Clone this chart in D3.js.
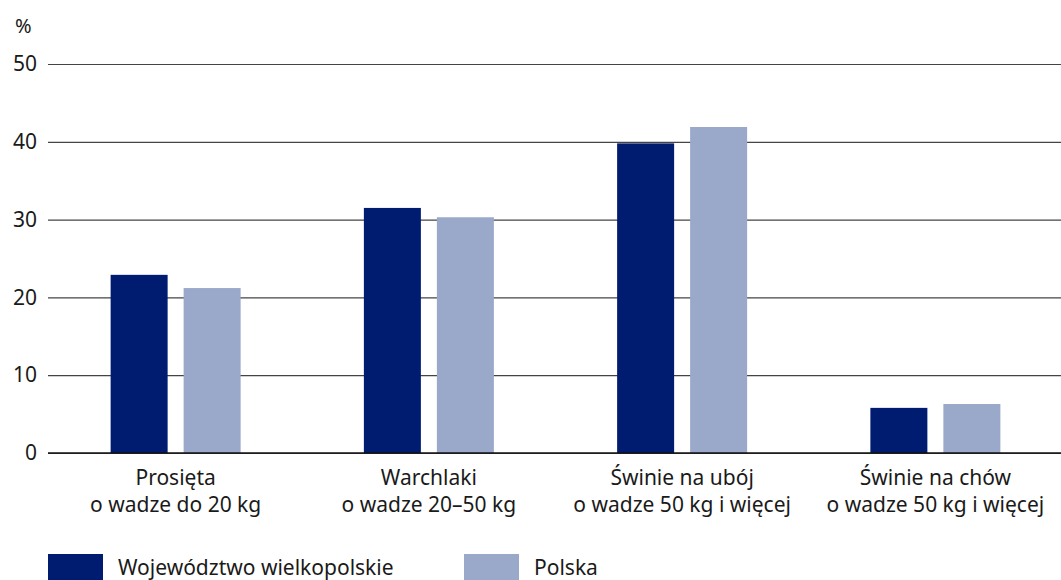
<!DOCTYPE html>
<html>
<head>
<meta charset="utf-8">
<script src="https://cdn.jsdelivr.net/npm/d3@7"></script>
<style>
  body { margin: 0; background: #fff; }
  text { font-family: "Noto Sans", sans-serif; fill: #1a1a1a; }
</style>
</head>
<body>
<div id="chart"></div>
<script>
// data
var categories = [
  ["Prosięta", "o wadze do 20 kg"],
  ["Warchlaki", "o wadze 20–50 kg"],
  ["Świnie na ubój", "o wadze 50 kg i więcej"],
  ["Świnie na chów", "o wadze 50 kg i więcej"]
];
var seriesNames = ["Województwo wielkopolskie", "Polska"];
var wielkopolska = [22.9, 31.5, 39.8, 5.8];
var polska = [21.2, 30.3, 41.9, 6.3];
var yTicks = [0, 10, 20, 30, 40, 50];
var colors = ["#001c71", "#9aa8c9"];

var svgWidth = 1061;
var svgHeight = 580;
var margin = { top: 64, right: 0, bottom: 127, left: 48 };
var width = svgWidth - margin.left - margin.right;
var height = svgHeight - margin.top - margin.bottom;

var svg = d3.select("#chart")
  .append("svg")
  .attr("width", svgWidth)
  .attr("height", svgHeight);

var chartGroup = svg.append("g")
  .attr("transform", `translate(${margin.left}, ${margin.top})`);

var x0 = d3.scaleBand()
  .domain(d3.range(categories.length))
  .range([1, width + 1]);

var y = d3.scaleLinear()
  .domain([0, 50])
  .range([height, 0]);

// gridlines + y labels
var leftAxis = d3.axisLeft(y)
  .tickValues(yTicks)
  .tickSize(-width)
  .tickPadding(11)
  .tickFormat(d3.format("d"));

var yAxis = chartGroup.append("g").call(leftAxis);
yAxis.select(".domain").remove();
yAxis.selectAll(".tick line").attr("stroke", "#444").attr("stroke-width", 1.2);
yAxis.selectAll(".tick text")
  .style("font-size", "21px")
  .attr("fill", "#1a1a1a");

svg.append("text")
  .attr("x", 15)
  .attr("y", 33)
  .style("font-size", "20px")
  .text("%");

// bars
var barW = 57, gap = 16;
var data = [];
categories.forEach(function(c, i) {
  data.push({ cat: i, s: 0, v: wielkopolska[i] });
  data.push({ cat: i, s: 1, v: polska[i] });
});

chartGroup.selectAll("rect.bar")
  .data(data)
  .enter()
  .append("rect")
  .attr("class", "bar")
  .attr("x", d => x0(d.cat) + x0.bandwidth() / 2 - barW - gap / 2 + d.s * (barW + gap))
  .attr("y", d => y(d.v))
  .attr("width", barW)
  .attr("height", d => y(0) - y(d.v))
  .attr("fill", d => colors[d.s]);

// baseline drawn over the bars
chartGroup.append("line")
  .attr("x1", 0).attr("x2", width)
  .attr("y1", y(0)).attr("y2", y(0))
  .attr("stroke", "#111").attr("stroke-width", 1.6);

// category labels
var labels = chartGroup.selectAll("text.cat")
  .data(categories)
  .enter()
  .append("text")
  .attr("class", "cat")
  .attr("text-anchor", "middle")
  .style("font-size", "21px")
  .attr("transform", (d, i) => `translate(${x0(i) + x0.bandwidth() / 2}, ${height + 32})`);

labels.append("tspan").attr("x", 0).attr("dy", 0).text(d => d[0]);
labels.append("tspan").attr("x", 0).attr("dy", 27).text(d => d[1]);

// legend
var legendX = [48, 464];
var legend = svg.selectAll("g.legend")
  .data(seriesNames)
  .enter()
  .append("g")
  .attr("class", "legend")
  .attr("transform", (d, i) => `translate(${legendX[i]}, 554)`);

legend.append("rect")
  .attr("width", 55)
  .attr("height", 28)
  .attr("fill", (d, i) => colors[i]);

legend.append("text")
  .attr("x", 70)
  .attr("y", 21)
  .style("font-size", "21px")
  .text(d => d);
</script>
</body>
</html>
